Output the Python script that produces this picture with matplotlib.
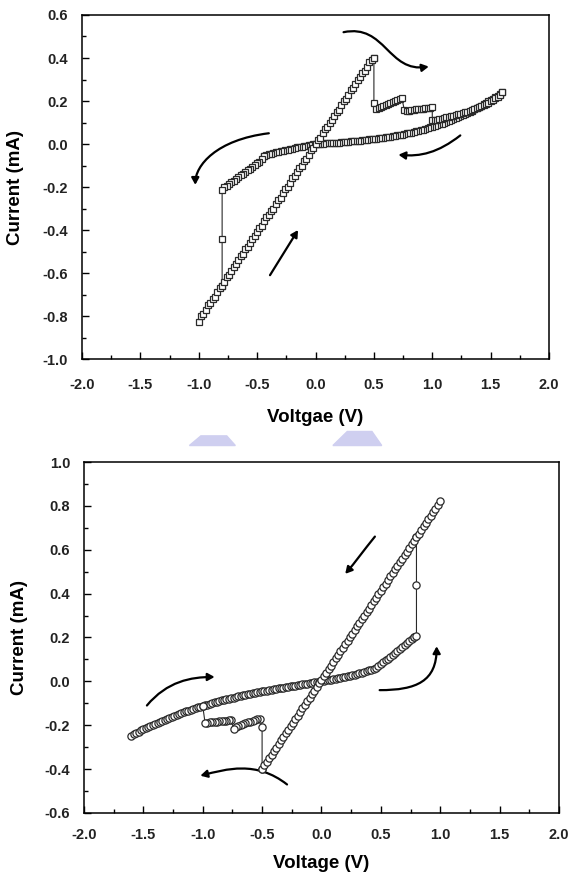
import numpy as np
import matplotlib.pyplot as plt
from matplotlib.path import Path
from matplotlib.patches import FancyArrowPatch, Polygon
from matplotlib.ticker import MultipleLocator, FormatStrFormatter

plt.rcParams["font.family"] = ["Liberation Sans", "DejaVu Sans"]
plt.rcParams["font.weight"] = "bold"

# ---------------- top panel (square markers) ----------------
# low resistance branch, sweep -1.0 -> 0.5 V, step 0.02 V
top_lrs_v = np.round(np.arange(-1.00, 0.501, 0.02), 2)
top_lrs_i = [-0.83, -0.80, -0.79, -0.77, -0.75, -0.74, -0.72, -0.71, -0.69, -0.67,
             -0.66, -0.64, -0.62, -0.61, -0.59, -0.57, -0.56, -0.54, -0.52, -0.51,
             -0.49, -0.48, -0.46, -0.44, -0.43, -0.41, -0.39, -0.38, -0.36, -0.34,
             -0.33, -0.31, -0.30, -0.28, -0.26, -0.25, -0.23, -0.21, -0.20, -0.18,
             -0.16, -0.15, -0.13, -0.11, -0.10, -0.08, -0.07, -0.05, -0.03, -0.02,
             0.00, 0.02, 0.03, 0.05, 0.07, 0.08, 0.10, 0.11, 0.13, 0.15,
             0.16, 0.18, 0.20, 0.21, 0.23, 0.25, 0.26, 0.28, 0.30, 0.31,
             0.33, 0.34, 0.36, 0.38, 0.39, 0.40]

# reset at 0.5 V and the saw-tooth part up to 1.6 V
top_reset_v = [0.50, 0.50, 0.52, 0.54, 0.56, 0.58, 0.60, 0.62, 0.64, 0.66, 0.68, 0.70, 0.72, 0.74,
               0.76, 0.78, 0.80, 0.82, 0.84, 0.86, 0.88, 0.90, 0.92, 0.94, 0.96, 0.98, 1.00,
               1.00, 1.02, 1.04, 1.06, 1.08, 1.10, 1.12, 1.14, 1.16, 1.18, 1.20, 1.22, 1.24,
               1.26, 1.28, 1.30, 1.32, 1.34, 1.36, 1.38, 1.40, 1.42, 1.44, 1.46, 1.48, 1.50,
               1.52, 1.54, 1.56, 1.58, 1.60]
top_reset_i = [0.40, 0.19, 0.165, 0.168, 0.172, 0.176, 0.180, 0.185, 0.190, 0.195, 0.200, 0.205, 0.210, 0.212,
               0.160, 0.155, 0.155, 0.158, 0.160, 0.161, 0.163, 0.164, 0.165, 0.167, 0.168, 0.169, 0.170,
               0.112, 0.112, 0.114, 0.116, 0.118, 0.121, 0.124, 0.126, 0.129, 0.132, 0.135, 0.138, 0.141,
               0.144, 0.148, 0.151, 0.155, 0.159, 0.163, 0.167, 0.171, 0.176, 0.181, 0.186, 0.192, 0.198,
               0.205, 0.212, 0.220, 0.228, 0.240]

# high resistance branch on the way back, 1.6 -> -0.44 V
top_hrs_v = np.round(np.arange(1.60, -0.441, -0.02), 2)
top_hrs_i = [0.240, 0.233, 0.225, 0.218, 0.211, 0.204, 0.198, 0.191, 0.185, 0.179,
             0.172, 0.167, 0.161, 0.155, 0.150, 0.144, 0.139, 0.134, 0.129, 0.124,
             0.120, 0.115, 0.111, 0.107, 0.102, 0.098, 0.095, 0.091, 0.087, 0.083,
             0.080, 0.077, 0.073, 0.070, 0.067, 0.064, 0.061, 0.059, 0.056, 0.053,
             0.051, 0.049, 0.046, 0.044, 0.042, 0.040, 0.038, 0.036, 0.034, 0.032,
             0.031, 0.029, 0.028, 0.026, 0.025, 0.023, 0.022, 0.021, 0.019, 0.018,
             0.017, 0.016, 0.015, 0.014, 0.013, 0.012, 0.011, 0.010, 0.009, 0.008,
             0.007, 0.006, 0.006, 0.005, 0.004, 0.004, 0.003, 0.002, 0.001, 0.001,
             0.000, -0.002, -0.004, -0.006, -0.008, -0.010, -0.012, -0.014, -0.016, -0.018,
             -0.021, -0.023, -0.026, -0.028, -0.031, -0.033, -0.036, -0.039, -0.042, -0.045,
             -0.048, -0.051, -0.054]

# step at -0.46 V and set at -0.8 V
top_set_v = [-0.44, -0.46, -0.48, -0.50, -0.52, -0.54, -0.56, -0.58, -0.60, -0.62, -0.64,
             -0.66, -0.68, -0.70, -0.72, -0.74, -0.76, -0.78, -0.80, -0.80, -0.80]
top_set_i = [-0.054, -0.072, -0.082, -0.090, -0.098, -0.106, -0.114, -0.122, -0.130, -0.138, -0.146,
             -0.154, -0.162, -0.170, -0.178, -0.186, -0.194, -0.202, -0.212, -0.44, -0.66]

# ---------------- bottom panel (circle markers) ----------------
bot_lrs_v = np.round(np.arange(-0.50, 1.001, 0.02), 2)
bot_lrs_i = [-0.400, -0.383, -0.367, -0.351, -0.334, -0.318, -0.302, -0.286, -0.269, -0.253,
             -0.237, -0.221, -0.204, -0.188, -0.172, -0.156, -0.139, -0.123, -0.107, -0.091,
             -0.074, -0.058, -0.042, -0.026, -0.009, 0.007, 0.023, 0.040, 0.056, 0.072,
             0.088, 0.105, 0.121, 0.137, 0.153, 0.170, 0.186, 0.202, 0.218, 0.235,
             0.251, 0.267, 0.283, 0.300, 0.316, 0.332, 0.348, 0.365, 0.381, 0.397,
             0.414, 0.430, 0.446, 0.462, 0.479, 0.495, 0.511, 0.527, 0.544, 0.560,
             0.576, 0.592, 0.609, 0.625, 0.641, 0.657, 0.674, 0.690, 0.706, 0.722,
             0.739, 0.755, 0.771, 0.787, 0.804, 0.820]

bot_hrs_v = np.round(np.arange(-1.60, 0.781, 0.02), 2)
bot_hrs_i = [-0.247, -0.241, -0.235, -0.230, -0.224, -0.219, -0.213, -0.208, -0.203, -0.198,
             -0.193, -0.188, -0.184, -0.179, -0.174, -0.170, -0.165, -0.161, -0.157, -0.153,
             -0.149, -0.145, -0.141, -0.137, -0.133, -0.129, -0.126, -0.122, -0.119, -0.115,
             -0.112, -0.109, -0.106, -0.102, -0.099, -0.096, -0.093, -0.090, -0.087, -0.085,
             -0.082, -0.079, -0.077, -0.074, -0.071, -0.069, -0.066, -0.064, -0.062, -0.059,
             -0.057, -0.055, -0.052, -0.050, -0.048, -0.046, -0.044, -0.042, -0.040, -0.038,
             -0.036, -0.034, -0.032, -0.030, -0.028, -0.026, -0.024, -0.023, -0.021, -0.019,
             -0.017, -0.015, -0.014, -0.012, -0.010, -0.009, -0.007, -0.005, -0.003, -0.002,
             0.000, 0.002, 0.004, 0.006, 0.008, 0.010, 0.012, 0.014, 0.017, 0.019,
             0.021, 0.024, 0.026, 0.029, 0.031, 0.034, 0.037, 0.040, 0.043, 0.046,
             0.050, 0.053, 0.057, 0.061, 0.070, 0.078, 0.087, 0.096, 0.104, 0.113,
             0.122, 0.131, 0.139, 0.148, 0.157, 0.165, 0.174, 0.183, 0.191, 0.200]

bot_set_v = [0.78, 0.80, 0.80, 0.80]
bot_set_i = [0.200, 0.205, 0.44, 0.657]

bot_reset_v = [-0.50, -0.50, -0.52, -0.54, -0.56, -0.58, -0.60, -0.62, -0.64, -0.66, -0.68, -0.70,
               -0.72, -0.74, -0.76, -0.78, -0.80, -0.82, -0.84, -0.86, -0.88, -0.90, -0.92,
               -0.94, -0.96, -0.98, -1.00]
bot_reset_i = [-0.40, -0.21, -0.170, -0.173, -0.176, -0.179, -0.183, -0.187, -0.191, -0.195, -0.199, -0.204,
               -0.209, -0.215, -0.178, -0.178, -0.179, -0.180, -0.181, -0.182, -0.183, -0.184, -0.185,
               -0.186, -0.188, -0.190, -0.112]

# sweep-direction arrows: list of control points (V, I)
top_arrows = [[(0.24, 0.52), (0.60, 0.56), (0.62, 0.33), (0.97, 0.36)],
              [(-0.40, 0.05), (-0.85, 0.02), (-1.03, -0.10), (-1.03, -0.19)],
              [(1.24, 0.04), (1.05, -0.04), (0.90, -0.06), (0.71, -0.05)],
              [(-0.39, -0.61), (-0.31, -0.54), (-0.23, -0.47), (-0.15, -0.40)]]
bot_arrows = [[(-1.47, -0.11), (-1.30, 0.00), (-1.10, 0.02), (-0.90, 0.02)],
              [(-0.29, -0.47), (-0.55, -0.36), (-0.80, -0.40), (-1.02, -0.43)],
              [(0.45, 0.66), (0.36, 0.60), (0.28, 0.54), (0.20, 0.49)],
              [(0.49, -0.04), (0.80, -0.04), (0.97, 0.00), (0.97, 0.16)]]

fig = plt.figure(figsize=(5.74, 8.77), dpi=100)
ax1 = fig.add_axes([0.1429, 0.5906, 0.8136, 0.3923])
ax2 = fig.add_axes([0.1463, 0.0730, 0.8275, 0.4002])

edge = "#2a2a2a"
sq = dict(color=edge, lw=0.8, marker="s", ms=4.6, mfc="white", mec=edge, mew=0.9)
ci = dict(color=edge, lw=0.8, marker="o", ms=5.2, mfc="white", mec=edge, mew=0.9)

ax1.plot(top_hrs_v, top_hrs_i, **sq)
ax1.plot(top_set_v, top_set_i, **sq)
ax1.plot(top_reset_v, top_reset_i, **sq)
ax1.plot(top_lrs_v, top_lrs_i, **sq)

ax2.plot(bot_hrs_v, bot_hrs_i, **ci)
ax2.plot(bot_set_v, bot_set_i, **ci)
ax2.plot(bot_reset_v, bot_reset_i, **ci)
ax2.plot(bot_lrs_v, bot_lrs_i, **ci)


def add_arrows(ax, arrows):
    for pts in arrows:
        path = Path(pts, [Path.MOVETO, Path.CURVE4, Path.CURVE4, Path.CURVE4])
        ax.add_patch(FancyArrowPatch(path=path, arrowstyle="-|>,head_length=4,head_width=2.2",
                                     color="black", lw=1.6, transform=ax.transData))


add_arrows(ax1, top_arrows)
add_arrows(ax2, bot_arrows)

for ax, ylo, yhi, xlab in [(ax1, -1.0, 0.6, "Voltgae (V)"), (ax2, -0.6, 1.0, "Voltage (V)")]:
    ax.set_xlim(-2.0, 2.0)
    ax.set_ylim(ylo, yhi)
    ax.xaxis.set_major_locator(MultipleLocator(0.5))
    ax.xaxis.set_minor_locator(MultipleLocator(0.25))
    ax.yaxis.set_major_locator(MultipleLocator(0.2))
    ax.yaxis.set_minor_locator(MultipleLocator(0.1))
    ax.xaxis.set_major_formatter(FormatStrFormatter("%.1f"))
    ax.yaxis.set_major_formatter(FormatStrFormatter("%.1f"))
    ax.tick_params(which="both", direction="in", top=False, right=False, width=1.0, colors="black")
    ax.tick_params(which="major", length=5)
    ax.tick_params(which="minor", length=3)
    ax.tick_params(axis="y", pad=10, labelsize=10.5, labelcolor="#222222")
    for s in ax.spines.values():
        s.set_linewidth(1.1)
    ax.set_xlabel(xlab, fontsize=13.5, fontweight="bold")
    ax.set_ylabel("Current (mA)", fontsize=13.5, fontweight="bold")

ax1.tick_params(axis="x", pad=14, labelsize=10.5, labelcolor="#222222")
ax2.tick_params(axis="x", pad=11, labelsize=10.5, labelcolor="#222222")
ax1.xaxis.set_label_coords(0.5, -0.145)
ax1.yaxis.set_label_coords(-0.125, 0.5)
ax2.xaxis.set_label_coords(0.5, -0.12)
ax2.yaxis.set_label_coords(-0.118, 0.5)

# faint watermark between the panels
fig.patches.append(Polygon([[0.330, 0.492], [0.410, 0.492], [0.395, 0.503], [0.350, 0.503]],
                           closed=True, transform=fig.transFigure, color="#cfcff0", zorder=0))
fig.patches.append(Polygon([[0.580, 0.492], [0.665, 0.492], [0.648, 0.508], [0.605, 0.508]],
                           closed=True, transform=fig.transFigure, color="#cfcff0", zorder=0))

fig.savefig("out.png", dpi=100)
